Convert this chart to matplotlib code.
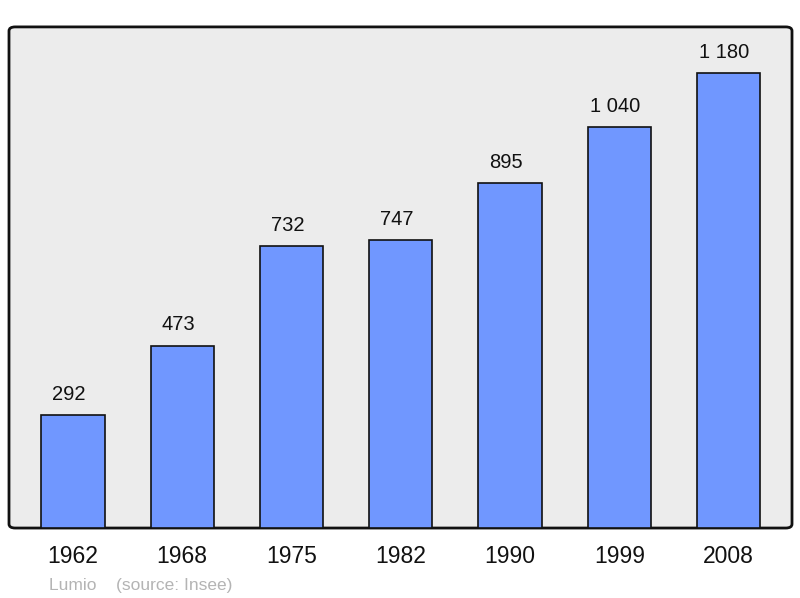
import matplotlib.pyplot as plt
from matplotlib.patches import FancyBboxPatch

plt.rcParams['font.family'] = ['Liberation Sans', 'DejaVu Sans']

# 数据
years = ['1962', '1968', '1975', '1982', '1990', '1999', '2008']
population = [292, 473, 732, 747, 895, 1040, 1180]
labels = ['292', '473', '732', '747', '895', '1 040', '1 180']

fig = plt.figure(figsize=(8, 5.98), dpi=100)
ax = fig.add_axes([0.01125, 0.117, 0.97875, 0.838])
ax.set_facecolor('none')

# 圆角背景框
frame = FancyBboxPatch((0, 0), 1, 1, boxstyle='round,pad=0,rounding_size=0.008',
                       transform=ax.transAxes, facecolor='#ececec',
                       edgecolor='#111111', linewidth=2, zorder=0, clip_on=False)
ax.add_patch(frame)

x = range(len(years))
bars = ax.bar(x, population, width=0.58, color='#7097ff', edgecolor='#111111',
              linewidth=1.2, zorder=2)

for b, lab in zip(bars, labels):
    ax.annotate(lab, (b.get_x() + b.get_width() / 2, b.get_height()),
                xytext=(-3, 8), textcoords='offset points',
                ha='center', va='bottom', fontsize=14.5, color='#111111')

ax.set_xlim(-0.585, 6.58)
ax.set_ylim(0, 1299)
ax.set_xticks(list(x))
ax.set_xticklabels(years, fontsize=16.5, color='#111111')
ax.tick_params(axis='x', length=0, pad=12)
ax.set_yticks([])
for s in ax.spines.values():
    s.set_visible(False)

fig.text(0.061, 0.013, 'Lumio    (source: Insee)', fontsize=12.5, color='#b4b4b4')

fig.savefig('out.png', dpi=100)
